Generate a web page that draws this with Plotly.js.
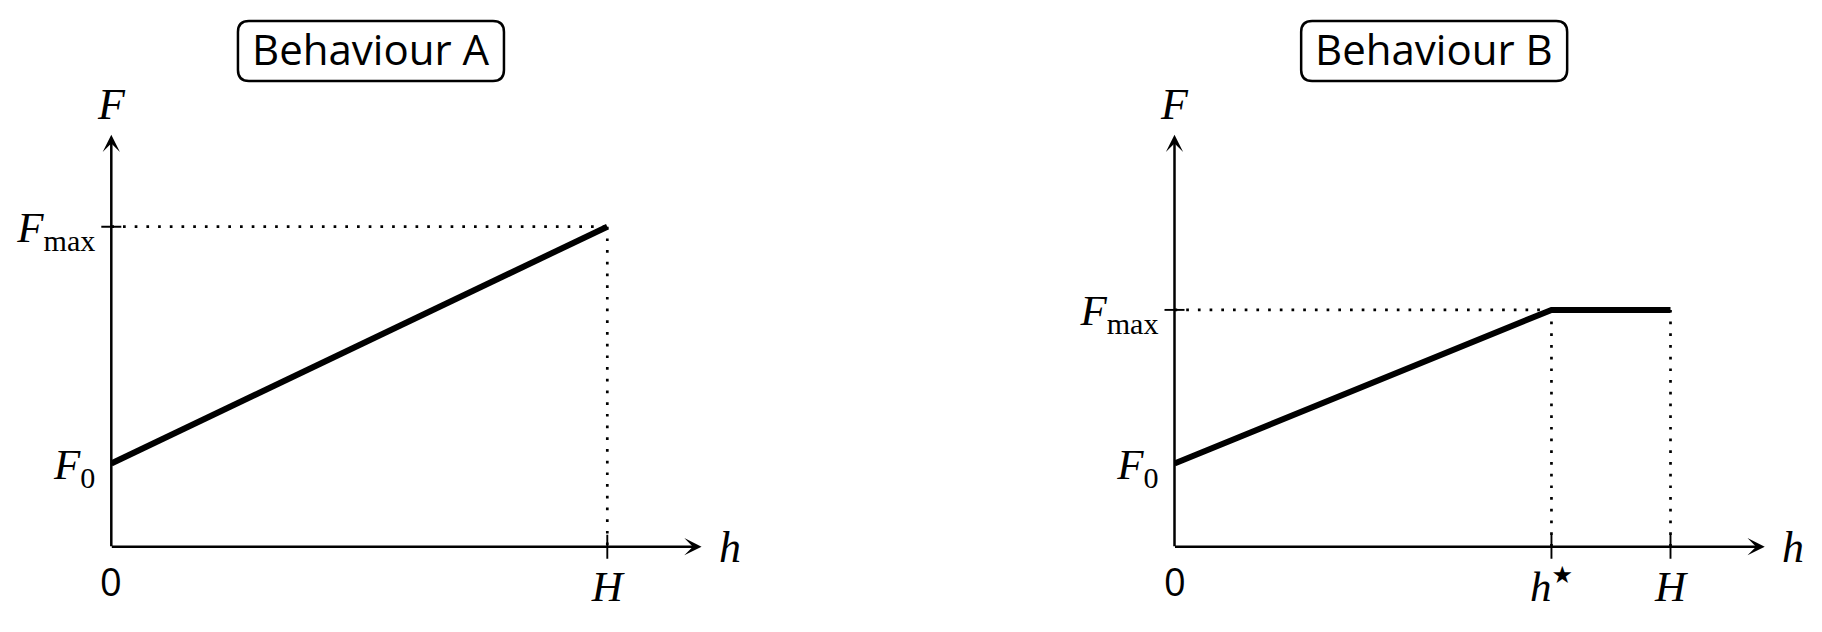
<!DOCTYPE html>
<html>
<head>
<meta charset="utf-8">
<script src="https://cdn.plot.ly/plotly-3.0.1.min.js"></script>
<style>
  html, body { margin: 0; padding: 0; background: #fff; }
  #chart { width: 1822px; height: 632px; }
</style>
</head>
<body>
<div id="chart"></div>
<script>
// Behaviour A: force grows linearly from F0 to Fmax, reached at h = H
const hA = [0, 1];
const forceA = [0.26, 1.0];
// Behaviour B: force grows to Fmax at h*, then stays flat up to H
const hB = [0, 0.76, 1];
const forceB = [0.26, 0.74, 0.74];

const titles = ['Behaviour A', 'Behaviour B'];
const xTickText = [
  ['<i>H</i>'],
  ['<i>h</i><sup><span style="font-family:DejaVu Sans;font-size:24px">★</span></sup>', '<i>H</i>'],
];
const yTickText = ['<i>F</i><sub>0</sub>', '<i>F</i><sub>max</sub>'];

const W = 1822, HT = 632;
const hEnd = 1.19, fEnd = 1.287;     // where the axis arrows stop
const pxPerH = 496, pxPerF = 320;
const originX = [111.3, 1174.5], originY = 546.7;
const serif = 'Liberation Serif, Times New Roman, serif';
const sans = 'Open Sans, Noto Sans, sans-serif';

const traces = [];
const shapes = [];
const annotations = [];
const layout = {
  width: W, height: HT,
  margin: {l: 0, r: 0, t: 0, b: 0},
  paper_bgcolor: '#fff', plot_bgcolor: 'rgba(0,0,0,0)',
  showlegend: false,
  shapes: shapes,
  annotations: annotations,
};

function panel(n, h, F) {
  const xa = n === 0 ? 'x' : 'x2';
  const ya = n === 0 ? 'y' : 'y2';
  const fMax = Math.max(...F);
  const hAtMax = h.filter((v, i) => F[i] === fMax);
  const dotted = {mode: 'lines', xaxis: xa, yaxis: ya, hoverinfo: 'skip',
                  line: {color: '#000', width: 2.7, dash: '2.7px,9px'}};

  // dotted guides to the axes
  traces.push(Object.assign({x: [0, hAtMax[0]], y: [fMax, fMax]}, dotted));
  hAtMax.forEach(v => traces.push(Object.assign({x: [v, v], y: [fMax, 0]}, dotted)));
  // the force curve
  traces.push({x: h, y: F, mode: 'lines', xaxis: xa, yaxis: ya,
               line: {color: '#000', width: 6}});

  const tickFont = {family: serif, size: 43, color: '#000'};
  const xKey = n === 0 ? 'xaxis' : 'xaxis2';
  const yKey = n === 0 ? 'yaxis' : 'yaxis2';
  const xTicks = hAtMax.slice();
  if (xTicks[xTicks.length - 1] !== h[h.length - 1]) xTicks.push(h[h.length - 1]);
  layout[xKey] = {
    domain: [originX[n] / W, (originX[n] + hEnd * pxPerH) / W],
    range: [0, hEnd], anchor: ya,
    tickmode: 'array', tickvals: xTicks, ticktext: xTickText[n],
    ticks: '', showgrid: false, zeroline: false, showline: false,
    tickfont: tickFont, ticklabelstandoff: 10, fixedrange: true,
  };
  layout[yKey] = {
    domain: [(HT - originY) / HT, (HT - originY + fEnd * pxPerF) / HT],
    range: [0, fEnd], anchor: xa,
    tickmode: 'array', tickvals: [F[0], fMax], ticktext: yTickText,
    ticks: '', showgrid: false, zeroline: false, showline: false,
    tickfont: tickFont, ticklabelstandoff: 15, fixedrange: true,
  };

  // small tick marks crossing the axes
  xTicks.forEach(v => shapes.push({
    type: 'line', xref: xa, yref: ya + ' domain', x0: v, x1: v,
    ysizemode: 'pixel', yanchor: 0, y0: -12, y1: 12,
    line: {color: '#000', width: 1.9},
  }));
  shapes.push({
    type: 'line', xref: xa + ' domain', yref: ya, y0: fMax, y1: fMax,
    xsizemode: 'pixel', xanchor: 0, x0: -10, x1: 10,
    line: {color: '#000', width: 1.9},
  });

  // axes with arrow heads
  const arrow = {xref: xa, yref: ya, axref: xa, ayref: ya, ax: 0, ay: 0,
                 text: '', showarrow: true, arrowhead: 3, arrowsize: 1.15,
                 arrowwidth: 2.5, arrowcolor: '#000', borderpad: 0, standoff: 0};
  annotations.push(Object.assign({x: hEnd, y: 0}, arrow));
  annotations.push(Object.assign({x: 0, y: fEnd}, arrow));

  const labelFont = {family: serif, size: 44, color: '#000'};
  annotations.push({xref: xa, yref: ya, x: hEnd, y: 0, xanchor: 'left', yanchor: 'middle',
                    xshift: 15, yshift: -1, text: '<i>h</i>', showarrow: false, font: labelFont});
  annotations.push({xref: xa, yref: ya, x: 0, y: fEnd, xanchor: 'center', yanchor: 'bottom',
                    yshift: 4, text: '<i>F</i>', showarrow: false, font: labelFont});
  annotations.push({xref: xa, yref: ya, x: 0, y: 0, xanchor: 'center', yanchor: 'top',
                    yshift: -6, text: '0', showarrow: false,
                    font: {family: sans, size: 38, color: '#000'}});

  // title in a rounded box
  const titleX = 0.5235, titleY = (HT - 51) / HT;
  annotations.push({xref: xa, yref: 'paper', x: titleX, y: titleY, xanchor: 'center', yanchor: 'middle',
                    yshift: 2, text: titles[n], showarrow: false,
                    font: {family: sans, size: 42, color: '#000'}});
  shapes.push({
    type: 'path', xref: xa, yref: 'paper', xsizemode: 'pixel', ysizemode: 'pixel',
    xanchor: titleX, yanchor: titleY,
    path: 'M-122,-30 H122 Q133,-30 133,-19 V19 Q133,30 122,30 H-122 Q-133,30 -133,19 V-19 Q-133,-30 -122,-30 Z',
    line: {color: '#000', width: 2.5}, fillcolor: 'rgba(0,0,0,0)',
  });
}

panel(0, hA, forceA);
panel(1, hB, forceB);

Plotly.newPlot('chart', traces, layout, {staticPlot: true, displayModeBar: false});
</script>
</body>
</html>
